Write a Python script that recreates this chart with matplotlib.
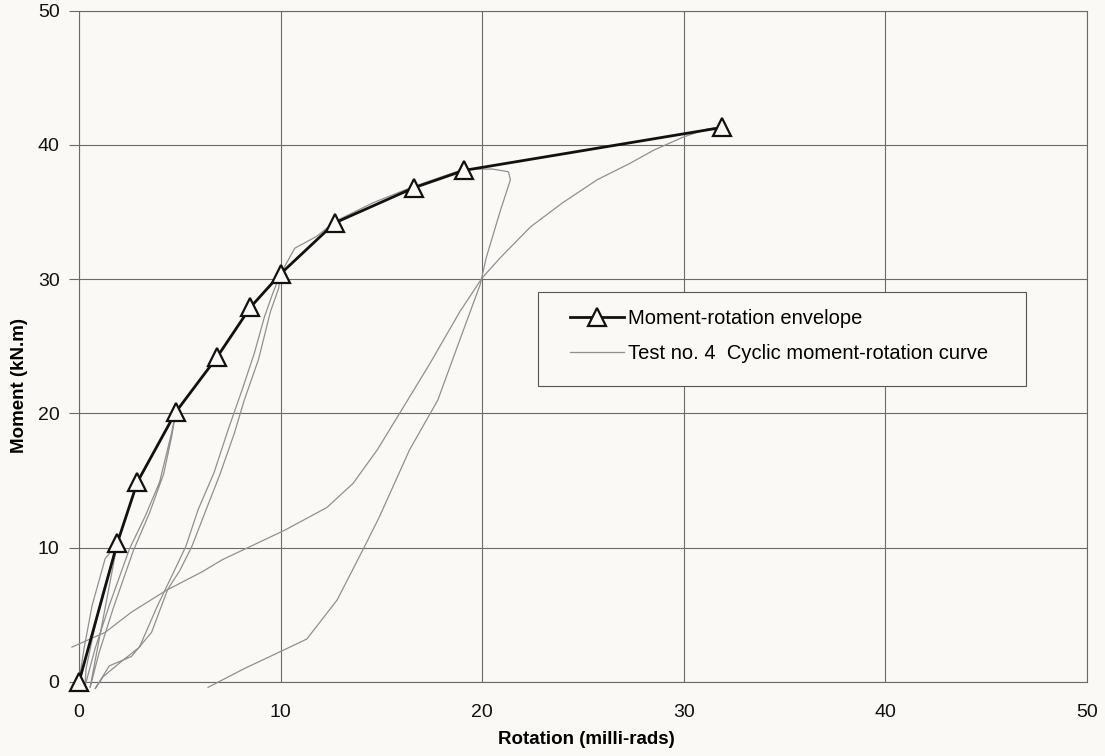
import numpy as np
import matplotlib
matplotlib.use("Agg")
import matplotlib.pyplot as plt
from matplotlib.patches import Rectangle

plt.rcParams['font.family'] = ['Liberation Sans', 'DejaVu Sans']

bg = '#faf9f6'

# Moment-rotation envelope (peak points of each cycle)
env_rot = [0.0, 1.9, 2.9, 4.8, 6.85, 8.5, 10.0, 12.7, 16.6, 19.1, 31.9]
env_mom = [0.0, 10.35, 14.9, 20.1, 24.2, 27.9, 30.4, 34.2, 36.8, 38.1, 41.3]

# Cyclic test curve, first part (small cycles, cycle to 10, cycle to 21)
cyc1_rot = [0.0, 0.25, 0.65, 1.3, 1.9, 1.7, 1.15, 0.7, 0.35, 0.3,
            0.8, 1.5, 2.5, 3.3, 4.0, 4.6, 4.8,
            4.6, 4.2, 3.5, 2.7, 1.7, 1.0, 0.55,
            0.6, 1.9, 2.9, 4.8, 6.85, 8.5, 10.0,
            9.9, 9.5, 8.9, 8.2, 7.7, 7.0, 6.4, 5.6, 5.0, 4.4, 3.6, 2.6, 1.5, 0.8,
            1.2, 2.0, 3.0, 3.9, 4.7, 5.3, 5.9, 6.7, 7.4, 8.1, 8.7, 9.2, 9.6, 10.0,
            10.7, 11.8, 12.7, 14.6, 16.6, 19.1, 20.5, 21.3, 21.4, 20.9, 20.2,
            19.9, 18.7, 17.8, 16.4, 14.9, 14.1, 12.8, 11.3, 9.9, 8.2, 6.4]
cyc1_mom = [0.0, 2.5, 5.7, 9.2, 10.3, 9.3, 6.5, 3.5, 1.0, -0.3,
            2.5, 5.7, 9.9, 12.4, 14.9, 18.6, 20.1,
            18.3, 15.5, 12.6, 9.8, 5.5, 2.2, -0.4,
            0.0, 10.3, 14.9, 20.1, 24.2, 27.9, 30.4,
            29.3, 27.6, 24.0, 21.0, 18.5, 15.5, 13.2, 10.1, 8.3, 6.9, 3.7, 1.9, 1.2, -0.5,
            0.4, 1.4, 2.6, 5.7, 8.2, 10.1, 12.8, 15.6, 18.8, 21.8, 24.5, 27.2, 28.9, 30.4,
            32.3, 33.2, 34.3, 35.7, 36.9, 38.2, 38.2, 38.0, 37.4, 35.1, 31.6,
            29.6, 24.7, 21.0, 17.3, 12.3, 9.9, 6.1, 3.2, 2.2, 1.0, -0.4]

# Cyclic test curve, final reloading up to the peak
cyc2_rot = [-0.35, 1.3, 2.6, 4.3, 6.1, 7.1, 10.2, 12.3, 13.6, 14.8, 15.9,
            17.4, 18.9, 20.0, 20.9, 22.4, 24.0, 25.7, 27.3, 28.5, 30.0, 31.2, 31.9]
cyc2_mom = [2.6, 3.7, 5.2, 6.8, 8.2, 9.1, 11.3, 13.0, 14.8, 17.3, 20.0,
            23.7, 27.6, 30.1, 31.6, 33.9, 35.7, 37.4, 38.6, 39.6, 40.6, 41.2, 41.3]

fig = plt.figure(figsize=(11.05, 7.56), dpi=100, facecolor=bg)
ax = fig.add_axes([79/1105, 1 - 682/756, 1008/1105, 671.4/756])
ax.set_facecolor(bg)

grey = '#909090'
ax.plot(cyc1_rot, cyc1_mom, color=grey, lw=0.9, clip_on=False, zorder=3,
        label="Test no. 4  Cyclic moment-rotation curve")
ax.plot(cyc2_rot, cyc2_mom, color=grey, lw=0.9, clip_on=False, zorder=3)
ax.plot(env_rot, env_mom, color='#111111', lw=2.0, marker='^', markersize=13,
        markerfacecolor=bg, markeredgecolor='#111111', markeredgewidth=1.6,
        clip_on=False, zorder=4, label="Moment-rotation envelope")

ax.set_xlim(0, 50)
ax.set_ylim(0, 50)
ax.set_xticks(np.arange(0, 51, 10))
ax.set_yticks(np.arange(0, 51, 10))
ax.grid(True, color='#6a6a6a', lw=0.8)
ax.set_axisbelow(True)
for s in ax.spines.values():
    s.set_color('#6a6a6a')
    s.set_linewidth(0.8)

ax.tick_params(axis='x', length=0, pad=16, labelsize=14, colors='#111111')
ax.tick_params(axis='y', length=7, width=0.8, color='#6a6a6a', pad=7,
               labelsize=14, labelcolor='#111111')

ax.set_xlabel("Rotation (milli-rads)", fontsize=13.5, fontweight='bold')
ax.set_ylabel("Moment (kN.m)", fontsize=13.5, fontweight='bold')
ax.xaxis.set_label_coords(0.503, -0.073)
ax.yaxis.set_label_coords(-0.051, 0.442)

# legend box
ax.add_patch(Rectangle((0.455, 0.441), 0.4845, 0.14, transform=ax.transAxes,
                       facecolor=bg, edgecolor='#555555', lw=0.8, zorder=5))
h, l = ax.get_legend_handles_labels()
leg = ax.legend(h[::-1], l[::-1], loc='upper left', bbox_to_anchor=(0.487, 0.556),
                frameon=False, fontsize=14.5, borderpad=0, borderaxespad=0,
                handlelength=2.7, handletextpad=0.2, labelspacing=0.8)
leg.set_zorder(6)

fig.savefig("out.png", dpi=100, facecolor=bg)
